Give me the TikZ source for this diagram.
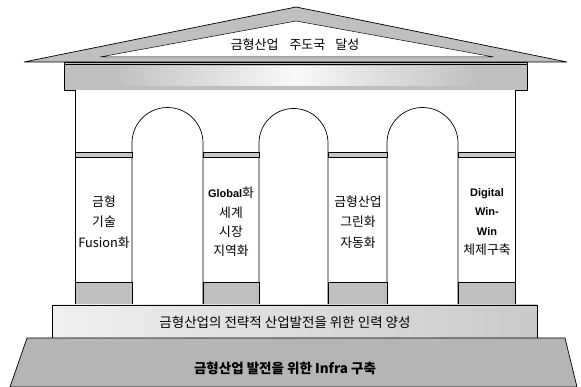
\documentclass[tikz,border=0pt]{standalone}
\usepackage{fontspec}
\setmainfont{Noto Sans CJK KR}
\newfontfamily\latinb{Liberation Sans}
\begin{document}
\begin{tikzpicture}[x=1pt,y=-1pt,
  outl/.style={draw=black,line width=0.7pt},
  hatch/.style={fill=gray!50},
  ptext/.style={align=center,font=\fontsize{12.8}{20.5}\selectfont,inner sep=0pt},
  ptextb/.style={align=center,font=\fontsize{12.8}{19.2}\selectfont,inner sep=0pt},
  latb/.style={},
  band/.style={fill=gray!45,draw=black,line width=0.5pt}]
\useasboundingbox (0,0) rectangle (581,387);
% roof
\filldraw[outl,fill=gray!50] (24,62) -- (296,7) -- (567,62) -- cycle;
\filldraw[draw=black,line width=0.5pt,fill=white] (100,57) -- (296,21) -- (494,57) -- cycle;
% entablature
\fill[gray!50] (64,62) rectangle (527,90);
\shade[left color=gray!50,right color=gray!50,middle color=gray!5] (110,67) rectangle (480,86);
\draw[outl] (64,62) rectangle (527,90);
\draw[line width=0.5pt] (64,64.5) -- (527,64.5);
% building body
\fill[white] (75,90) rectangle (515,305);
\draw[outl] (75,90) -- (75,305);
\draw[outl] (515,90) -- (515,305);
% arches
\foreach \l/\r in {132/203, 259/328, 387/458}{
  \fill[white] (\l,305) -- (\l,143) arc[start angle=180,end angle=0,radius={(\r-\l)/2*1pt}] -- (\r,305) -- cycle;
  \draw[outl] (\l,305) -- (\l,143) arc[start angle=180,end angle=0,radius={(\r-\l)/2*1pt}] -- (\r,305);
}
% bands at pillars
\foreach \l/\r in {75/132, 203/259, 328/387, 458/515}{
  \filldraw[band] (\l,152) rectangle (\r,157);
  \filldraw[outl,hatch] (\l,282) rectangle (\r,305);
}
% middle step
\shade[left color=gray!12,right color=gray!42] (52,305) rectangle (537,338);
\draw[outl] (52,305) rectangle (537,338);
% bottom step
\filldraw[outl,fill=gray!58] (27,338) -- (565,338) -- (577,387) -- (10,387) -- cycle;
% texts
\node[font=\fontsize{13}{15}\selectfont,inner sep=0pt] (title) at (295,45) {금형산업\hspace{8pt} 주도국\hspace{7pt} 달성};
\node[ptext] (p1) at (104,222) {금형\\기술\\Fusion화};
\node[ptextb] (p2) at (231,222) {{\latinb\bfseries\fontsize{11}{12}\selectfont Global}화\\세계\\시장\\지역화};
\node[ptext] (p3) at (358,222) {금형산업\\그린화\\자동화};
\node[ptextb] (p4) at (487,222) {{\latinb\bfseries\fontsize{11}{12}\selectfont Digital}\\{\latinb\bfseries\fontsize{11}{12}\selectfont Win-}\\{\latinb\bfseries\fontsize{11}{12}\selectfont Win}\\체제구축};
\node[font=\fontsize{13.5}{15}\selectfont,inner sep=0pt] (mid) at (285,322) {금형산업의 전략적 산업발전을 위한 인력 양성};
\node[font=\bfseries\fontsize{13.5}{15}\selectfont,inner sep=0pt] (base) at (285,368) {금형산업 발전을 위한 Infra 구축};
\end{tikzpicture}
\end{document}
